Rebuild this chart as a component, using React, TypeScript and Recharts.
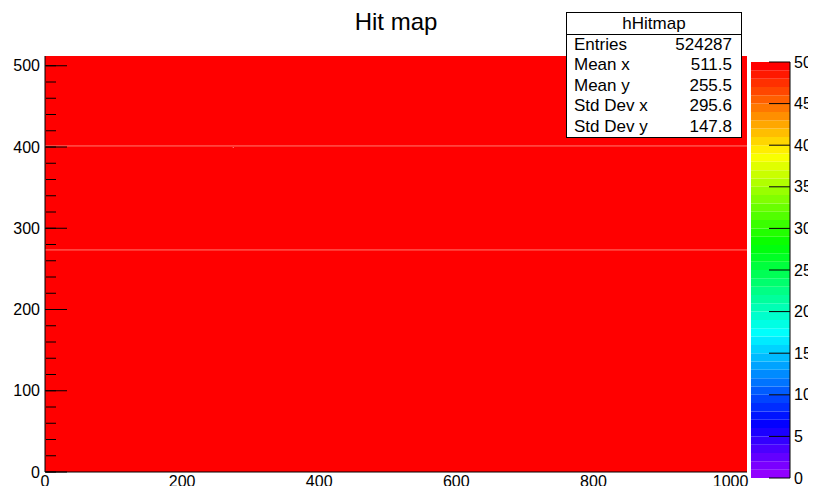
import React from 'react';
import { ComposedChart, XAxis, YAxis, ReferenceArea } from 'recharts';

// hit map rows (y bin ranges) with their contents
const rowStart = [0, 273, 274, 401, 402];
const rowEnd = [273, 274, 401, 402, 512];
const rowContent = [50, 48, 50, 48, 50];
// the single empty bin
const emptyBinX = [274];
const emptyBinY = [399];

const xTicks = [0, 200, 400, 600, 800, 1000];
const yTicks = [0, 100, 200, 300, 400, 500];
const zTicks = [0, 5, 10, 15, 20, 25, 30, 35, 40, 45, 50];
const paletteLevels = Array.from({ length: 50 }, (_, i) => i);

const statLabels = ['Entries', 'Mean x', 'Mean y', 'Std Dev x', 'Std Dev y'];
const statValues = ['524287', '511.5', '255.5', '295.6', '147.8'];

const font = '"Liberation Sans", Arial, Helvetica, sans-serif';
const xMinor = Array.from({ length: 21 }, (_, i) => i * 50);
const yMinor = Array.from({ length: 26 }, (_, i) => i * 20);

// ROOT "pretty" palette: 50 fully saturated hues, violet -> red
const paletteColor = (i: number) => `hsl(${280 - (i + 1) * 5.6}, 100%, 50%)`;
const zColor = (z: number) => paletteColor(Math.min(49, Math.floor(z)));

const tickText = { fontSize: 16, fill: '#000', fontFamily: font };
const noLabel = () => <g />;

const App: React.FC = () => {
    return (
        <div style={{ position: 'relative', width: 816, height: 494, margin: -8, background: '#fff', fontFamily: font }}>
            <div style={{ position: 'absolute', left: 0, top: 0 }}>
                <ComposedChart width={816} height={494} margin={{ top: 56, right: 69, bottom: 0, left: 0 }}>
                    <XAxis type="number" dataKey="x" domain={[0, 1024]} allowDataOverflow ticks={xTicks}
                        height={22} tickLine={false} tickSize={0} tickMargin={4} tick={tickText}
                        axisLine={{ stroke: '#000' }} interval={0} />
                    <YAxis type="number" domain={[0, 512]} allowDataOverflow ticks={yTicks}
                        width={45} tickLine={false} tickSize={0} tickMargin={5} tick={tickText}
                        axisLine={{ stroke: '#000' }} interval={0} />
                    {rowStart.map((y0, i) => (
                        <ReferenceArea key={`row${i}`} x1={0} x2={1024} y1={y0} y2={rowEnd[i]}
                            fill={zColor(rowContent[i])} fillOpacity={1} stroke="none" />
                    ))}
                    {emptyBinX.map((x, i) => (
                        <ReferenceArea key={`empty${i}`} x1={x} x2={x + 1} y1={emptyBinY[i]} y2={emptyBinY[i] + 1}
                            fill="#fff" fillOpacity={1} stroke="none" />
                    ))}
                    <XAxis xAxisId="maj" type="number" domain={[0, 1024]} allowDataOverflow ticks={xTicks} interval={0}
                        mirror height={1} tick={noLabel} axisLine={false} tickSize={12} tickLine={{ stroke: '#000' }} />
                    <XAxis xAxisId="min" type="number" domain={[0, 1024]} allowDataOverflow ticks={xMinor} interval={0}
                        mirror height={1} tick={noLabel} axisLine={false} tickSize={6} tickLine={{ stroke: '#000' }} />
                    <YAxis yAxisId="maj" type="number" domain={[0, 512]} allowDataOverflow ticks={yTicks} interval={0}
                        mirror width={1} tick={noLabel} axisLine={false} tickSize={22} tickLine={{ stroke: '#000' }} />
                    <YAxis yAxisId="min" type="number" domain={[0, 512]} allowDataOverflow ticks={yMinor} interval={0}
                        mirror width={1} tick={noLabel} axisLine={false} tickSize={10} tickLine={{ stroke: '#000' }} />
                </ComposedChart>
            </div>

            {/* colour palette axis */}
            <div style={{ position: 'absolute', left: 751, top: 52 }}>
                <ComposedChart width={65} height={436} margin={{ top: 10, right: 0, bottom: 10, left: 0 }}>
                    <XAxis type="number" dataKey="x" domain={[0, 1]} allowDataOverflow hide />
                    <YAxis orientation="right" type="number" domain={[0, 50]} allowDataOverflow ticks={zTicks} interval={0}
                        width={26} tickLine={false} tickSize={0} tickMargin={4} tick={tickText} axisLine={false} />
                    {paletteLevels.map(i => (
                        <ReferenceArea key={i} x1={0} x2={1} y1={i} y2={i + 1}
                            fill={paletteColor(i)} fillOpacity={1} stroke="none" />
                    ))}
                    <YAxis yAxisId="t" orientation="right" type="number" domain={[0, 50]} allowDataOverflow ticks={zTicks} interval={0}
                        mirror width={1} tick={noLabel} tickSize={21} tickLine={{ stroke: '#000' }}
                        axisLine={{ stroke: '#000' }} />
                </ComposedChart>
            </div>

            <div style={{ position: 'absolute', left: 0, width: 792, top: 8, textAlign: 'center', fontSize: 24, lineHeight: '28px' }}>
                Hit map
            </div>

            <div style={{ position: 'absolute', left: 566, top: 12, width: 174, height: 124, border: '1px solid #000', background: '#fff', fontSize: 17 }}>
                <div style={{ height: 21, lineHeight: '21px', textAlign: 'center', borderBottom: '1px solid #000' }}>hHitmap</div>
                {statLabels.map((label, i) => (
                    <div key={label} style={{ display: 'flex', justifyContent: 'space-between', height: 20.4, lineHeight: '20.4px', padding: '0 9px 0 7px' }}>
                        <span>{label}</span>
                        <span>{statValues[i]}</span>
                    </div>
                ))}
            </div>
        </div>
    );
};

export default App;
